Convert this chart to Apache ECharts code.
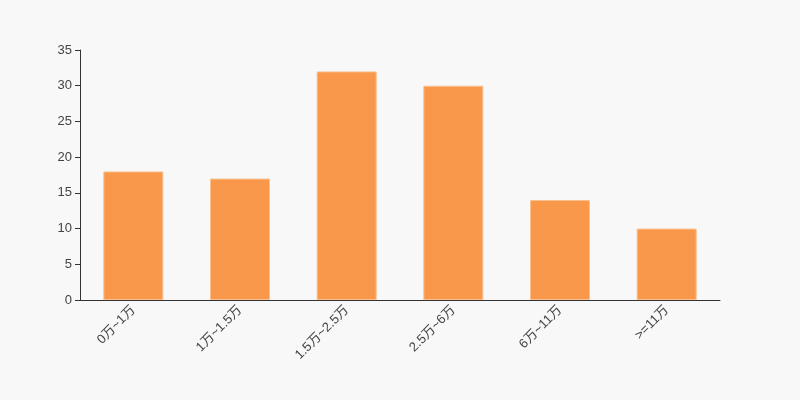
<!DOCTYPE html>
<html><head><meta charset="utf-8">
<script src="https://cdn.jsdelivr.net/npm/echarts@6/dist/echarts.min.js"></script>
<style>html,body{margin:0;padding:0;background:#f8f8f8;}#c{width:800px;height:400px;}</style>
</head><body><div id="c"></div>
<script>
const categories = ['0万~1万', '1万~1.5万', '1.5万~2.5万', '2.5万~6万', '6万~11万', '>=11万'];
const values = [18, 17, 32, 30, 14, 10];
const yTicks = {min: 0, max: 35, interval: 5};

const chart = echarts.init(document.getElementById('c'));
chart.setOption({
  backgroundColor: '#f8f8f8',
  animation: false,
  grid: {left: 80, right: 80, top: 50, bottom: 100},
  xAxis: {
    type: 'category', data: categories,
    axisLine: {lineStyle: {color: '#333'}},
    axisTick: {lineStyle: {color: '#333'}},
    axisLabel: {rotate: 45, color: '#444', fontSize: 13, fontFamily: 'Liberation Sans, Noto Sans CJK SC, sans-serif', interval: 0}
  },
  yAxis: {
    type: 'value', min: yTicks.min, max: yTicks.max, interval: yTicks.interval,
    axisLine: {show: true, lineStyle: {color: '#333'}},
    axisTick: {show: true, lineStyle: {color: '#333'}},
    splitLine: {show: false},
    axisLabel: {color: '#444', fontSize: 13, fontFamily: 'Liberation Sans, sans-serif'}
  },
  series: [{
    type: 'bar', data: values, barWidth: 60,
    itemStyle: {color: '#f9984a', borderColor: '#fbc08f', borderWidth: 1}
  }]
});
</script></body></html>
